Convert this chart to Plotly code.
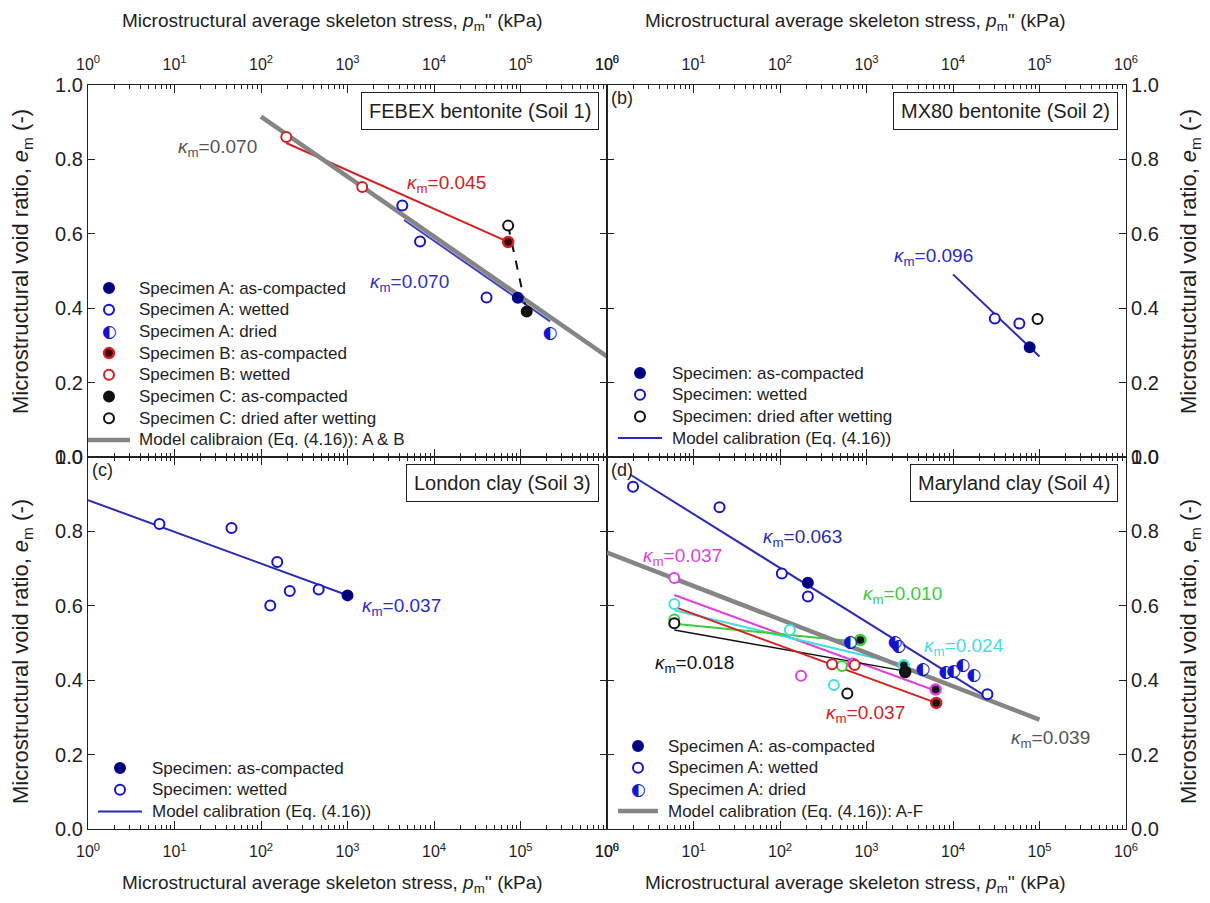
import numpy as np
import plotly.graph_objects as go
from plotly.subplots import make_subplots

FONT = "Liberation Sans, Arial, sans-serif"
GLYPH_FONT = "DejaVu Sans"
TXT = "#1e1e1e"

NAVY = "#00006e"
NAVY_EDGE = "#0000a0"
BLUE = "#1414d0"
BLUE_LINE = "#2a2ab8"
RED = "#d42020"
DARK_RED = "#3a0000"
MAGENTA = "#e040e0"
CYAN = "#40dede"
GREEN = "#3ccc3c"
BLACK = "#101010"
GRAY = "#858585"

# ---------------- Soil 1: FEBEX bentonite ----------------
febex_A_compacted_p = [93000]
febex_A_compacted_e = [0.428]
febex_A_wetted_p = [4300, 6900, 40500]
febex_A_wetted_e = [0.676, 0.579, 0.429]
febex_A_dried_p = [221000]
febex_A_dried_e = [0.331]
febex_B_compacted_p = [72000]
febex_B_compacted_e = [0.578]
febex_B_wetted_p = [196, 1480]
febex_B_wetted_e = [0.860, 0.726]
febex_C_compacted_p = [118000]
febex_C_compacted_e = [0.391]
febex_C_dried_p = [72000]
febex_C_dried_e = [0.622]

# ---------------- Soil 2: MX80 bentonite ----------------
mx80_compacted_p = [77000]
mx80_compacted_e = [0.295]
mx80_wetted_p = [30400, 58500]
mx80_wetted_e = [0.372, 0.359]
mx80_dried_p = [95000]
mx80_dried_e = [0.371]

# ---------------- Soil 3: London clay ----------------
london_compacted_p = [1000]
london_compacted_e = [0.628]
london_wetted_p = [6.7, 45.6, 154, 128, 215, 464]
london_wetted_e = [0.820, 0.809, 0.718, 0.601, 0.640, 0.644]

# ---------------- Soil 4: Maryland clay ----------------
maryland_A_compacted_p = [210]
maryland_A_compacted_e = [0.662]
maryland_A_wetted_p = [2.0, 20, 105, 210, 25000]
maryland_A_wetted_e = [0.920, 0.865, 0.687, 0.625, 0.362]
maryland_A_dried_p = [650, 2150, 2350, 4500, 8300, 10200, 13000, 17500]
maryland_A_dried_e = [0.502, 0.500, 0.489, 0.428, 0.420, 0.423, 0.440, 0.412]
maryland_magenta_open_p = [6, 175, 700]
maryland_magenta_open_e = [0.675, 0.412, 0.445]
maryland_magenta_comp_p = [6300]
maryland_magenta_comp_e = [0.375]
maryland_cyan_open_p = [6, 130, 420]
maryland_cyan_open_e = [0.605, 0.535, 0.387]
maryland_cyan_comp_p = [2700]
maryland_cyan_comp_e = [0.440]
maryland_green_open_p = [6, 520]
maryland_green_open_e = [0.563, 0.438]
maryland_green_comp_p = [850]
maryland_green_comp_e = [0.508]
maryland_black_open_p = [6, 600]
maryland_black_open_e = [0.553, 0.364]
maryland_black_comp_p = [2800]
maryland_black_comp_e = [0.422]
maryland_red_open_p = [400, 730]
maryland_red_open_e = [0.443, 0.441]
maryland_red_comp_p = [6400]
maryland_red_comp_e = [0.339]

# Calibration lines e = e0 - kappa * ln(p / p0): (kappa, p_start, p_end, e_start)
febex_model_AB = (0.070, 100, 1e6, 0.915)
febex_model_A = (0.070, 4500, 220000, 0.637)
febex_model_B = (0.045, 196, 72000, 0.844)
mx80_model = (0.096, 10000, 100000, 0.491)
london_model = (0.037, 1, 1000, 0.884)
maryland_model_AF = (0.039, 1, 100000, 0.743)
maryland_model_A = (0.063, 1.85, 25000, 0.953)
maryland_model_magenta = (0.037, 6, 6300, 0.629)
maryland_model_cyan = (0.024, 6, 2700, 0.588)
maryland_model_green = (0.010, 6, 850, 0.552)
maryland_model_black = (0.018, 6, 2800, 0.535)
maryland_model_red = (0.037, 5.4, 6400, 0.601)


def model_line(spec):
    kappa, p0, p1, e0 = spec
    return [p0, p1], [e0, e0 - kappa * np.log(p1 / p0)]


fig = make_subplots(rows=2, cols=2, horizontal_spacing=0, vertical_spacing=0)


def markers(p, e, row, col, fill, edge, lw=2, size=10):
    fig.add_trace(go.Scatter(
        x=p, y=e, mode="markers", showlegend=False,
        marker=dict(symbol="circle", size=size, color=fill,
                    line=dict(color=edge, width=lw)),
        hoverinfo="skip"), row=row, col=col)


def half_filled(p, e, row, col, color):
    # white disc under a left-half-filled circle glyph
    fig.add_trace(go.Scatter(
        x=p, y=e, mode="markers", showlegend=False,
        marker=dict(symbol="circle", size=10, color="white", line=dict(width=0)),
        hoverinfo="skip"), row=row, col=col)
    fig.add_trace(go.Scatter(
        x=p, y=e, mode="text", text=["\u25d0"] * len(p), showlegend=False,
        textposition="middle center",
        textfont=dict(family=GLYPH_FONT, size=17, color=color),
        hoverinfo="skip"), row=row, col=col)


def line(spec, row, col, color, width, dash="solid"):
    x, y = model_line(spec)
    fig.add_trace(go.Scatter(
        x=x, y=y, mode="lines", showlegend=False,
        line=dict(color=color, width=width, dash=dash),
        hoverinfo="skip"), row=row, col=col)


# ---- (a) FEBEX ----
line(febex_model_B, 1, 1, RED, 2)
line(febex_model_A, 1, 1, "#4040c0", 2)
fig.add_trace(go.Scatter(
    x=febex_C_dried_p + febex_C_compacted_p, y=febex_C_dried_e + febex_C_compacted_e,
    mode="lines", line=dict(color=BLACK, width=2, dash="dash"),
    showlegend=False, hoverinfo="skip"), row=1, col=1)
line(febex_model_AB, 1, 1, GRAY, 4.5)
markers(febex_A_compacted_p, febex_A_compacted_e, 1, 1, NAVY, NAVY_EDGE)
markers(febex_A_wetted_p, febex_A_wetted_e, 1, 1, "white", BLUE)
half_filled(febex_A_dried_p, febex_A_dried_e, 1, 1, BLUE)
markers(febex_B_compacted_p, febex_B_compacted_e, 1, 1, DARK_RED, RED, lw=2.5)
markers(febex_B_wetted_p, febex_B_wetted_e, 1, 1, "white", RED)
markers(febex_C_compacted_p, febex_C_compacted_e, 1, 1, BLACK, BLACK)
markers(febex_C_dried_p, febex_C_dried_e, 1, 1, "white", BLACK)

# ---- (b) MX80 ----
line(mx80_model, 1, 2, BLUE_LINE, 2)
markers(mx80_compacted_p, mx80_compacted_e, 1, 2, NAVY, NAVY_EDGE)
markers(mx80_wetted_p, mx80_wetted_e, 1, 2, "white", BLUE)
markers(mx80_dried_p, mx80_dried_e, 1, 2, "white", BLACK)

# ---- (c) London clay ----
line(london_model, 2, 1, BLUE_LINE, 2)
markers(london_compacted_p, london_compacted_e, 2, 1, NAVY, NAVY_EDGE)
markers(london_wetted_p, london_wetted_e, 2, 1, "white", BLUE)

# ---- (d) Maryland clay ----
line(maryland_model_A, 2, 2, BLUE_LINE, 2)
line(maryland_model_magenta, 2, 2, MAGENTA, 2)
line(maryland_model_cyan, 2, 2, CYAN, 2)
line(maryland_model_green, 2, 2, GREEN, 2)
line(maryland_model_black, 2, 2, BLACK, 1.5)
line(maryland_model_red, 2, 2, RED, 2)
line(maryland_model_AF, 2, 2, GRAY, 4.5)
for op, oe, cp, ce, col_ in [
    (maryland_magenta_open_p, maryland_magenta_open_e, maryland_magenta_comp_p, maryland_magenta_comp_e, MAGENTA),
    (maryland_cyan_open_p, maryland_cyan_open_e, maryland_cyan_comp_p, maryland_cyan_comp_e, CYAN),
    (maryland_green_open_p, maryland_green_open_e, maryland_green_comp_p, maryland_green_comp_e, GREEN),
    (maryland_black_open_p, maryland_black_open_e, maryland_black_comp_p, maryland_black_comp_e, BLACK),
    (maryland_red_open_p, maryland_red_open_e, maryland_red_comp_p, maryland_red_comp_e, RED),
]:
    markers(op, oe, 2, 2, "white", col_)
    markers(cp, ce, 2, 2, "#151515", col_, lw=2.5)
markers(maryland_A_compacted_p, maryland_A_compacted_e, 2, 2, NAVY, NAVY_EDGE)
markers(maryland_A_wetted_p, maryland_A_wetted_e, 2, 2, "white", BLUE)
half_filled(maryland_A_dried_p, maryland_A_dried_e, 2, 2, BLUE)

# ---------------- axes ----------------
major_p = [10 ** k for k in range(7)]
major_txt = [f"10<sup>{k}</sup>" for k in range(7)]
minor_p = [m * 10 ** k for k in range(6) for m in range(2, 10)]
e_ticks = [0.0, 0.2, 0.4, 0.6, 0.8, 1.0]
e_txt = [f"{v:.1f}" for v in e_ticks]

xcommon = dict(type="log", range=[0, 6], tickmode="array", tickvals=major_p, ticktext=major_txt,
               ticks="inside", ticklen=8, tickwidth=1, tickcolor="#222", ticklabelstandoff=8,
               showline=True, linecolor="#222", linewidth=1.2, mirror="ticks",
               showgrid=False, zeroline=False,
               tickfont=dict(family=FONT, size=16, color=TXT),
               minor=dict(tickmode="array", tickvals=minor_p, ticks="inside", ticklen=4,
                          tickcolor="#222", showgrid=False))
ycommon = dict(range=[0, 1], tickmode="array", tickvals=e_ticks, ticktext=e_txt,
               ticks="inside", ticklen=7, tickwidth=1, tickcolor="#222",
               showline=True, linecolor="#222", linewidth=1.2, mirror="ticks",
               showgrid=False, zeroline=False,
               tickfont=dict(family=FONT, size=20, color=TXT))

fig.update_xaxes(side="top", **xcommon, row=1, col=1)
fig.update_xaxes(side="top", **xcommon, row=1, col=2)
fig.update_xaxes(side="bottom", **xcommon, row=2, col=1)
fig.update_xaxes(side="bottom", **xcommon, row=2, col=2)
fig.update_yaxes(side="left", **ycommon, row=1, col=1)
fig.update_yaxes(side="right", **ycommon, row=1, col=2)
fig.update_yaxes(side="left", **ycommon, row=2, col=1)
fig.update_yaxes(side="right", **ycommon, row=2, col=2)

# ---------------- annotations & legend keys ----------------
ann = []
shapes = []

PLOT_L, PLOT_T, PLOT_W, PLOT_H = 88, 85, 1038, 744


def px_x(px):
    return (px - PLOT_L) / PLOT_W


def px_y(py):
    return (PLOT_T + PLOT_H - py) / PLOT_H


def key_circle(cx, cy, fill, edge, lw=2):
    shapes.append(dict(type="circle", xref="paper", yref="paper",
                       xsizemode="pixel", ysizemode="pixel",
                       xanchor=px_x(cx), yanchor=px_y(cy),
                       x0=-5, x1=5, y0=-5, y1=5,
                       fillcolor=fill, line=dict(color=edge, width=lw), layer="above"))


def key_half(cx, cy, color):
    ann.append(dict(text="\u25d0", x=px_x(cx), y=px_y(cy), xref="paper", yref="paper",
                    showarrow=False, xanchor="center", yanchor="middle",
                    font=dict(family=GLYPH_FONT, size=17, color=color)))


def key_line(x0, x1, cy, color, width):
    shapes.append(dict(type="line", xref="paper", yref="paper",
                       x0=px_x(x0), x1=px_x(x1), y0=px_y(cy), y1=px_y(cy),
                       line=dict(color=color, width=width), layer="above"))


def legend_block(sym_x, text_x, line_x0, line_x1, top_y, step, entries):
    for i, (kind, style, label) in enumerate(entries):
        cy = top_y + i * step
        if kind == "circle":
            key_circle(sym_x, cy, *style)
        elif kind == "half":
            key_half(sym_x, cy, style)
        else:
            key_line(line_x0, line_x1, cy, *style)
        ann.append(dict(text=label, x=px_x(text_x), y=px_y(cy), xref="paper", yref="paper",
                        showarrow=False, xanchor="left", yanchor="middle",
                        font=dict(family=FONT, size=17, color=TXT)))


legend_block(109, 137, 88, 130, 288, 21.7, [
    ("circle", (NAVY, NAVY_EDGE), "Specimen A: as-compacted"),
    ("circle", ("white", BLUE), "Specimen A: wetted"),
    ("half", BLUE, "Specimen A: dried"),
    ("circle", (DARK_RED, RED, 2.5), "Specimen B: as-compacted"),
    ("circle", ("white", RED), "Specimen B: wetted"),
    ("circle", (BLACK, BLACK), "Specimen C: as-compacted"),
    ("circle", ("white", BLACK), "Specimen C: dried after wetting"),
    ("line", (GRAY, 4.5), "Model calibraion (Eq. (4.16)): A &amp; B"),
])
legend_block(640, 670, 618, 662, 373, 21.7, [
    ("circle", (NAVY, NAVY_EDGE), "Specimen: as-compacted"),
    ("circle", ("white", BLUE), "Specimen: wetted"),
    ("circle", ("white", BLACK), "Specimen: dried after wetting"),
    ("line", (BLUE_LINE, 2), "Model calibration (Eq. (4.16))"),
])
legend_block(120, 150, 98, 142, 768, 21.7, [
    ("circle", (NAVY, NAVY_EDGE), "Specimen: as-compacted"),
    ("circle", ("white", BLUE), "Specimen: wetted"),
    ("line", (BLUE_LINE, 2), "Model calibration (Eq. (4.16))"),
])
legend_block(638, 666, 618, 658, 746, 21.7, [
    ("circle", (NAVY, NAVY_EDGE), "Specimen A: as-compacted"),
    ("circle", ("white", BLUE), "Specimen A: wetted"),
    ("half", BLUE, "Specimen A: dried"),
    ("line", (GRAY, 4.5), "Model calibration (Eq. (4.16)): A-F"),
])


def kappa_label(value, xref, yref, logp, e, color, xanchor="center"):
    ann.append(dict(text=f"<i>\u03ba</i><sub>m</sub>={value:.3f}", x=logp, y=e, xref=xref, yref=yref,
                    showarrow=False, xanchor=xanchor, yanchor="middle",
                    font=dict(family=FONT, size=19, color=color)))


kappa_label(febex_model_AB[0], "x", "y", 1.50, 0.832, "#555555")
kappa_label(febex_model_B[0], "x", "y", 4.15, 0.735, RED)
kappa_label(febex_model_A[0], "x", "y", 3.72, 0.468, "#3030c0")
kappa_label(mx80_model[0], "x2", "y2", 3.78, 0.538, "#2a2ad0")
kappa_label(london_model[0], "x3", "y3", 3.14, 0.596, "#2a2ad0", xanchor="left")
kappa_label(maryland_model_A[0], "x4", "y4", 2.26, 0.783, "#2a2ab8")
kappa_label(maryland_model_magenta[0], "x4", "y4", 0.875, 0.730, MAGENTA)
kappa_label(maryland_model_green[0], "x4", "y4", 3.42, 0.628, GREEN)
kappa_label(maryland_model_cyan[0], "x4", "y4", 4.13, 0.489, CYAN)
kappa_label(maryland_model_black[0], "x4", "y4", 1.015, 0.444, BLACK)
kappa_label(maryland_model_red[0], "x4", "y4", 2.99, 0.310, RED)
kappa_label(maryland_model_AF[0], "x4", "y4", 5.13, 0.241, "#555555")

boxes = [("FEBEX bentonite (Soil 1)", "x domain", "y domain"),
         ("MX80 bentonite (Soil 2)", "x2 domain", "y2 domain"),
         ("London clay (Soil 3)", "x3 domain", "y3 domain"),
         ("Maryland clay (Soil 4)", "x4 domain", "y4 domain")]
for txt, xr, yr in boxes:
    ann.append(dict(text=txt, x=0.985, y=0.982, xref=xr, yref=yr, showarrow=False,
                    xanchor="right", yanchor="top", bgcolor="white", bordercolor="#222",
                    borderwidth=1, borderpad=7, font=dict(family=FONT, size=20, color=TXT)))

for txt, xr, yr in [("(b)", "x2 domain", "y2 domain"), ("(c)", "x3 domain", "y3 domain"),
                    ("(d)", "x4 domain", "y4 domain")]:
    ann.append(dict(text=txt, x=0.003, y=0.998, xref=xr, yref=yr, showarrow=False,
                    xanchor="left", yanchor="top", font=dict(family=FONT, size=18, color=TXT)))

x_title = "Microstructural average skeleton stress, <i>p</i><sub>m</sub>'' (kPa)"
y_title = "Microstructural void ratio, <i>e</i><sub>m</sub> (-)"
for xp in (0.236, 0.739):
    ann.append(dict(text=x_title, x=xp, y=px_y(22), xref="paper", yref="paper", showarrow=False,
                    xanchor="center", yanchor="middle", font=dict(family=FONT, size=19, color=TXT)))
    ann.append(dict(text=x_title, x=xp, y=px_y(884), xref="paper", yref="paper", showarrow=False,
                    xanchor="center", yanchor="middle", font=dict(family=FONT, size=19, color=TXT)))
for xp in (px_x(22), px_x(1190)):
    for yp in (px_y(262), px_y(652)):
        ann.append(dict(text=y_title, x=xp, y=yp, xref="paper", yref="paper", showarrow=False,
                        textangle=-90, xanchor="center", yanchor="middle",
                        font=dict(family=FONT, size=22, color=TXT)))

fig.update_layout(
    width=1210, height=903,
    margin=dict(l=PLOT_L, r=1210 - PLOT_L - PLOT_W, t=PLOT_T, b=903 - PLOT_T - PLOT_H),
    paper_bgcolor="white", plot_bgcolor="white",
    font=dict(family=FONT, color=TXT),
    showlegend=False,
    annotations=ann,
    shapes=shapes,
)

fig.write_html("out.html")
